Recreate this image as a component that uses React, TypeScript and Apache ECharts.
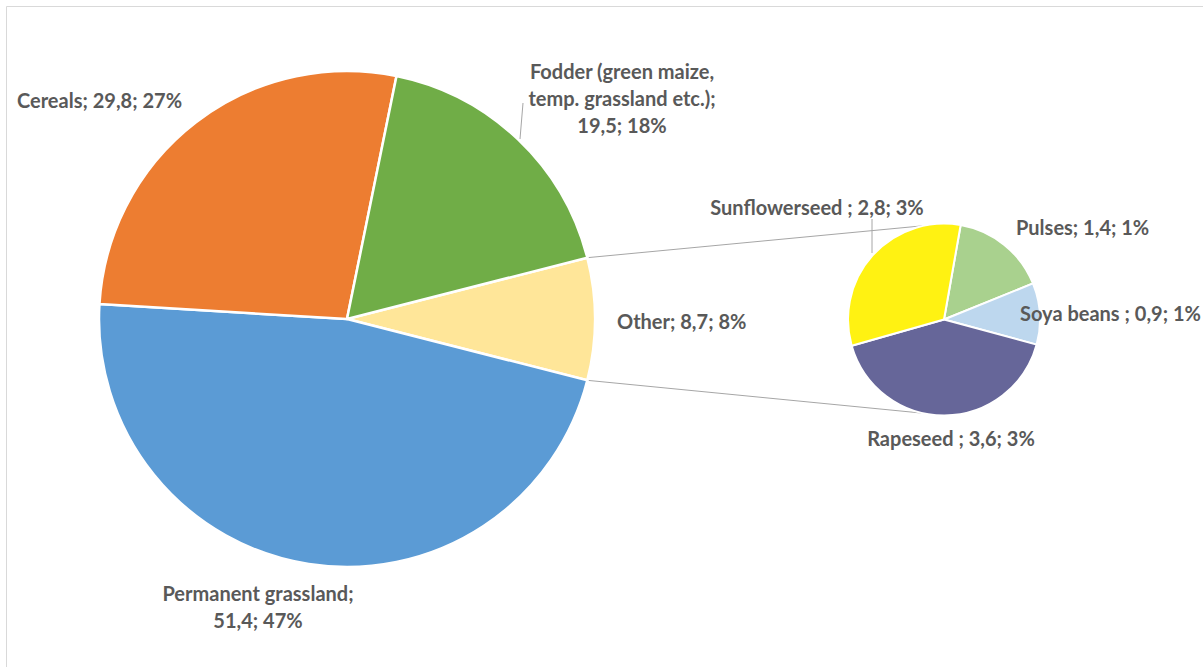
import React, { useEffect, useRef } from "react";
import * as echarts from "echarts";

// Main pie (drawing order, clockwise starting with "Other")
const MAIN_CATEGORIES = ["Other", "Permanent grassland", "Cereals", "Fodder (green maize, temp. grassland etc.)"];
const MAIN_VALUES = [8.7, 51.4, 29.8, 19.5];
const MAIN_COLORS = ["#FFE699", "#5B9BD5", "#ED7D31", "#70AD47"];

// Secondary pie: breakdown of "Other" (drawing order, clockwise)
const SUB_CATEGORIES = ["Pulses", "Soya beans ", "Rapeseed ", "Sunflowerseed "];
const SUB_VALUES = [1.4, 0.9, 3.6, 2.8];
const SUB_COLORS = ["#A9D18E", "#BDD7EE", "#666699", "#FFF212"];

const LABEL_PREFIX: Record<string, string> = {
  "Fodder (green maize, temp. grassland etc.)": "Fodder (green maize,\ntemp. grassland etc.);\n",
  "Permanent grassland": "Permanent grassland;\n",
};

type Pos = { x: number; y: number; align: string; line?: number[][] };
const LABEL_POS: Record<string, Pos> = {
  "Other": { x: 617, y: 321, align: "left" },
  "Permanent grassland": { x: 258, y: 606, align: "center" },
  "Cereals": { x: 17, y: 100, align: "left" },
  "Fodder (green maize, temp. grassland etc.)": { x: 622, y: 98, align: "center", line: [[523, 103], [521.5, 121], [520, 139]] },
  "Pulses": { x: 1016, y: 227, align: "left" },
  "Soya beans ": { x: 1020, y: 313, align: "left" },
  "Rapeseed ": { x: 951, y: 438, align: "center" },
  "Sunflowerseed ": { x: 817, y: 207, align: "center", line: [[872, 219], [872, 236], [872, 253]] },
};

const MAIN_CENTER = [347, 319];
const MAIN_R = 248;
const SUB_CENTER = [944, 319.5];
const SUB_R = 96;
const SUB_START = 80;
const CONNECT_ANGLE = 102.5;

export default function App() {
  const ref = useRef<HTMLDivElement>(null);
  useEffect(() => {
    if (!ref.current) return;
    const chart = echarts.init(ref.current, undefined, { renderer: "svg" });
    const total = MAIN_VALUES.reduce((a, b) => a + b, 0);
    const fmtNum = (v: number) => v.toFixed(1).replace(".", ",");
    const formatter = (p: any) => {
      const prefix = LABEL_PREFIX[p.name] ?? p.name + "; ";
      return prefix + fmtNum(p.value) + "; " + Math.round((p.value / total) * 100) + "%";
    };
    const labelStyle = {
      show: true,
      position: "outside",
      formatter,
      fontFamily: "Lato",
      fontWeight: "bold",
      fontSize: 20,
      color: "#595959",
      lineHeight: 27,
    };
    const mkData = (names: string[], values: number[], colors: string[]) =>
      names.map((n, i) => ({
        name: n,
        value: values[i],
        itemStyle: { color: colors[i] },
        labelLine: LABEL_POS[n]?.line
          ? { show: true, lineStyle: { color: "#A6A6A6", width: 1 } }
          : { show: false },
      }));
    const allNames = [MAIN_CATEGORIES, SUB_CATEGORIES];
    const labelLayout = (params: any) => {
      const name = allNames[params.seriesIndex][params.dataIndex];
      const pos = LABEL_POS[name];
      if (!pos) return {};
      const res: any = { x: pos.x, y: pos.y, align: pos.align, verticalAlign: "middle" };
      if (pos.line) res.labelLinePoints = pos.line;
      return res;
    };

    // Connector lines from the "Other" slice edges to the secondary pie
    const half = (MAIN_VALUES[0] / total) * Math.PI;
    const ca = (CONNECT_ANGLE * Math.PI) / 180;
    const p1 = [MAIN_CENTER[0] + MAIN_R * Math.cos(half), MAIN_CENTER[1] - MAIN_R * Math.sin(half)];
    const p2 = [MAIN_CENTER[0] + MAIN_R * Math.cos(half), MAIN_CENTER[1] + MAIN_R * Math.sin(half)];
    const q1 = [SUB_CENTER[0] + SUB_R * Math.cos(ca), SUB_CENTER[1] - SUB_R * Math.sin(ca)];
    const q2 = [SUB_CENTER[0] + SUB_R * Math.cos(ca), SUB_CENTER[1] + SUB_R * Math.sin(ca)];

    chart.setOption({
      animation: false,
      backgroundColor: "#ffffff",
      graphic: [
        {
          type: "rect",
          silent: true,
          z: -10,
          shape: { x: 6.5, y: 6.5, width: 1300, height: 800 },
          style: { fill: "none", stroke: "#D9D9D9", lineWidth: 1 },
        },
        {
          type: "line",
          silent: true,
          shape: { x1: p1[0], y1: p1[1], x2: q1[0], y2: q1[1] },
          style: { stroke: "#A6A6A6", lineWidth: 1 },
        },
        {
          type: "line",
          silent: true,
          shape: { x1: p2[0], y1: p2[1], x2: q2[0], y2: q2[1] },
          style: { stroke: "#A6A6A6", lineWidth: 1 },
        },
      ],
      series: [
        {
          type: "pie",
          center: MAIN_CENTER,
          radius: MAIN_R,
          startAngle: (MAIN_VALUES[0] / total) * 180,
          clockwise: true,
          avoidLabelOverlap: false,
          itemStyle: { borderColor: "#ffffff", borderWidth: 2.5 },
          label: labelStyle,
          labelLayout,
          emphasis: { disabled: true },
          data: mkData(MAIN_CATEGORIES, MAIN_VALUES, MAIN_COLORS),
        },
        {
          type: "pie",
          center: SUB_CENTER,
          radius: SUB_R,
          startAngle: SUB_START,
          clockwise: true,
          avoidLabelOverlap: false,
          itemStyle: { borderColor: "#ffffff", borderWidth: 2 },
          label: labelStyle,
          labelLayout,
          emphasis: { disabled: true },
          data: mkData(SUB_CATEGORIES, SUB_VALUES, SUB_COLORS),
        },
      ],
    });
    return () => chart.dispose();
  }, []);
  return (
    <div
      ref={ref}
      style={{ position: "fixed", left: 0, top: 0, width: 1203, height: 667, background: "#fff" }}
    />
  );
}
